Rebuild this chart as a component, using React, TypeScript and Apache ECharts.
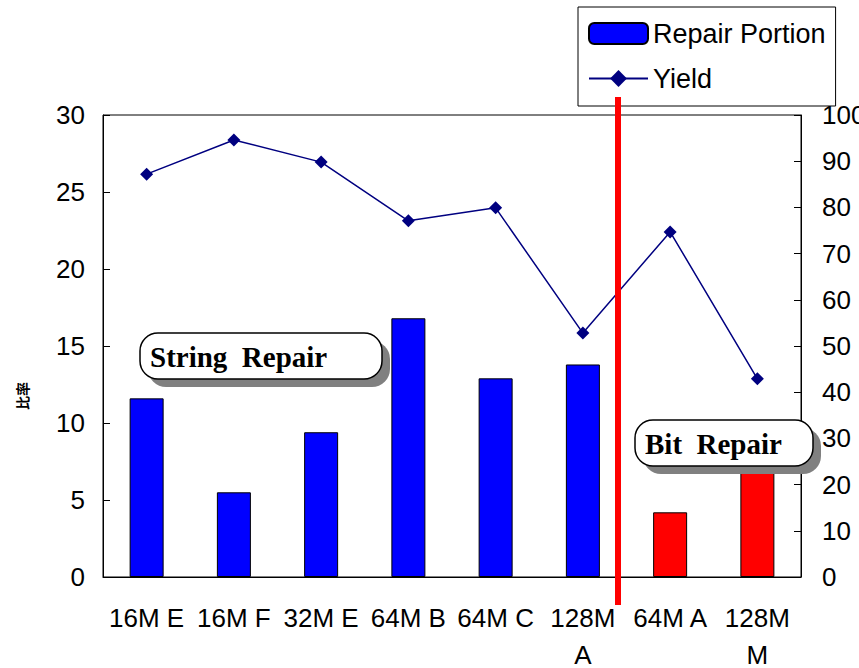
import React, { useEffect, useRef } from "react";
import * as echarts from "echarts";

// Product categories (two-line labels where the name wraps)
const categories = ["16M E", "16M F", "32M E", "64M B", "64M C", "128M\nA", "64M A", "128M\nM"];
// Share of chips repaired, left axis
const repairPortion = [11.6, 5.5, 9.4, 16.8, 12.9, 13.8, 4.2, 7.2];
// Repair scheme used for each product
const repairKind = ["string", "string", "string", "string", "string", "string", "bit", "bit"];
// Yield, right axis
const yieldValues = [87.2, 94.6, 89.8, 77.1, 79.9, 52.8, 74.7, 42.9];

const kindColor: Record<string, string> = { string: "#0000ff", bit: "#ff0000" };

const SANS = "'Liberation Sans', Arial, sans-serif";
const SERIF = "'Liberation Serif', 'Times New Roman', serif";

export default function App() {
  const ref = useRef<HTMLDivElement>(null);

  useEffect(() => {
    if (!ref.current) return;
    const chart = echarts.init(ref.current, undefined, { renderer: "svg" });

    const axisText = { color: "#000", fontSize: 26, fontFamily: SANS };

    const calloutBox = (x: number, y: number, w: number, h: number, label: string) => [
      {
        type: "rect",
        z: 100,
        shape: { x: x + 8, y: y + 8, width: w, height: h, r: 18 },
        style: { fill: "#808080" },
      },
      {
        type: "rect",
        z: 101,
        shape: { x, y, width: w, height: h, r: 18 },
        style: { fill: "#fff", stroke: "#000", lineWidth: 1.5 },
      },
      {
        type: "text",
        z: 102,
        x: x + 10,
        y: y + h / 2 + 1,
        style: {
          text: label,
          fill: "#000",
          font: `bold 29px ${SERIF}`,
          verticalAlign: "middle",
          align: "left",
        },
      },
    ];

    chart.setOption({
      animation: false,
      backgroundColor: "#fff",
      grid: {
        left: 103,
        right: 58,
        top: 115,
        bottom: 91,
        outerBoundsMode: "none",
        containLabel: false,
        show: true,
        borderColor: "#000",
        borderWidth: 1,
        backgroundColor: "transparent",
      },
      legend: {
        orient: "vertical",
        left: 578,
        top: 7,
        itemWidth: 59,
        itemHeight: 21,
        itemGap: 18,
        padding: [13, 10, 14, 10],
        borderColor: "#000",
        borderWidth: 1,
        backgroundColor: "#fff",
        textStyle: { color: "#000", fontSize: 27, fontFamily: SANS },
        data: ["Repair Portion", "Yield"],
      },
      xAxis: {
        type: "category",
        data: categories,
        boundaryGap: true,
        axisLine: { lineStyle: { color: "#000", width: 1 } },
        axisTick: { inside: true, length: 7, lineStyle: { color: "#000" } },
        axisLabel: { ...axisText, interval: 0, lineHeight: 37, margin: 22 },
        splitLine: { show: false },
      },
      yAxis: [
        {
          type: "value",
          min: 0,
          max: 30,
          interval: 5,
          axisLine: { show: true, lineStyle: { color: "#000", width: 1 } },
          axisTick: { show: true, inside: true, length: 7, lineStyle: { color: "#000" } },
          axisLabel: { ...axisText, margin: 18 },
          splitLine: { show: false },
        },
        {
          type: "value",
          min: 0,
          max: 100,
          interval: 10,
          position: "right",
          axisLine: { show: true, lineStyle: { color: "#000", width: 1 } },
          axisTick: { show: true, inside: true, length: 7, lineStyle: { color: "#000" } },
          axisLabel: { ...axisText, margin: 21, align: "left" },
          splitLine: { show: false },
        },
      ],
      series: [
        {
          name: "Repair Portion",
          type: "bar",
          yAxisIndex: 0,
          barWidth: 34,
          itemStyle: { color: kindColor.string, borderColor: "#000", borderWidth: 1 },
          data: repairPortion.map((v, i) => ({
            value: v,
            itemStyle: { color: kindColor[repairKind[i]], borderColor: "#000", borderWidth: 1 },
          })),
        },
        {
          name: "Yield",
          type: "line",
          yAxisIndex: 1,
          data: yieldValues,
          symbol: "diamond",
          symbolSize: 13,
          lineStyle: { color: "#000080", width: 1.5 },
          itemStyle: { color: "#000080" },
          z: 5,
        },
      ],
      graphic: [
        // left axis title, set sideways
        {
          type: "text",
          z: 100,
          x: 22,
          y: 396,
          rotation: Math.PI / 2,
          style: {
            text: "比率",
            fill: "#000",
            font: "bold 14px 'Noto Sans CJK JP', sans-serif",
            align: "center",
            verticalAlign: "middle",
          },
        },
        ...calloutBox(140, 333, 242, 46, "String  Repair"),
        ...calloutBox(635, 420, 178, 46, "Bit  Repair"),
        {
          type: "rect",
          z: 103,
          shape: { x: 615, y: 97, width: 6, height: 508 },
          style: { fill: "#ff0000" },
        },
      ],
    });

    return () => chart.dispose();
  }, []);

  return (
    <div
      ref={ref}
      style={{ position: "fixed", left: 0, top: 0, width: 859, height: 668, background: "#fff" }}
    />
  );
}
